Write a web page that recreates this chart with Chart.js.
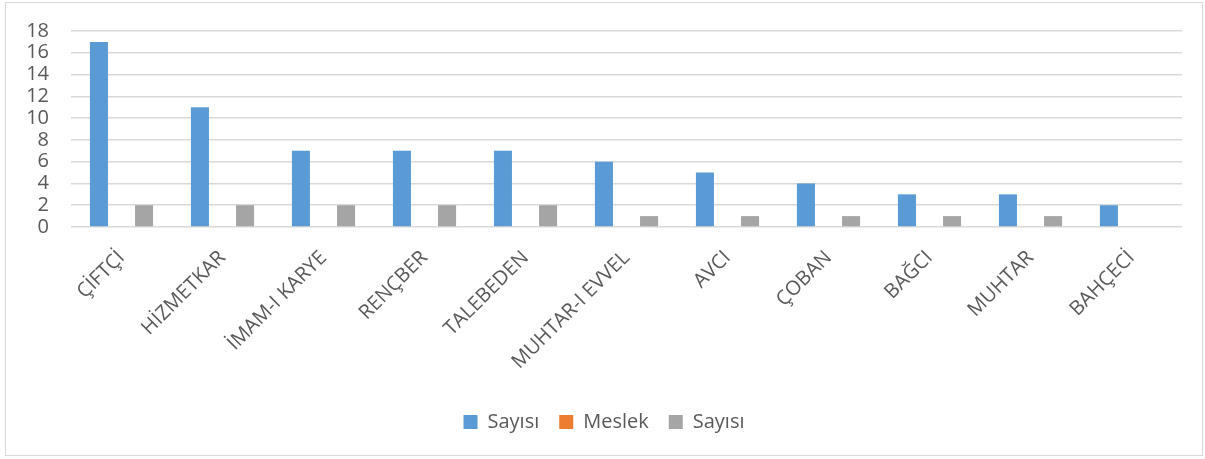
<!DOCTYPE html>
<html>
<head>
<meta charset="utf-8">
<script src="https://cdn.jsdelivr.net/npm/chart.js@4/dist/chart.umd.min.js"></script>
<style>
  html, body { margin: 0; padding: 0; background: #fff; }
  #box {
    position: absolute; left: 5px; top: 2px;
    width: 1196px; height: 452px;
    border: 1px solid #d9d9d9;
  }
</style>
</head>
<body>
<div id="box"><canvas id="myChart" width="1196" height="452"></canvas></div>
<script>
const labels = [
  "ÇİFTÇİ", "HİZMETKAR", "İMAM-I KARYE", "RENÇBER", "TALEBEDEN",
  "MUHTAR-I EVVEL", "AVCI", "ÇOBAN", "BAĞCI", "MUHTAR", "BAHÇECİ",
];
const sayisi1 = [17, 11, 7, 7, 7, 6, 5, 4, 3, 3, 2];
const meslek = [null, null, null, null, null, null, null, null, null, null, null];
const sayisi2 = [2, 2, 2, 2, 2, 1, 1, 1, 1, 1, null];
const yTicks = [0, 2, 4, 6, 8, 10, 12, 14, 16, 18];

const colors = {
  blue: "#5b9bd5",
  orange: "#ed7d31",
  gray: "#a5a5a5",
  text: "#595959",
  grid: "#d9d9d9",
};

const font = "'Open Sans', 'Liberation Sans', sans-serif";

const ctx = document.getElementById("myChart").getContext("2d");
const chart = new Chart(ctx, {
  type: "bar",
  data: {
    labels: labels,
    datasets: [
      { label: "Sayısı", data: sayisi1, backgroundColor: colors.blue },
      { label: "Meslek", data: meslek, backgroundColor: colors.orange },
      { label: "Sayısı", data: sayisi2, backgroundColor: colors.gray },
    ],
  },
  options: {
    responsive: false,
    animation: false,
    layout: { padding: { left: 20, right: 20, top: 28, bottom: 13 } },
    datasets: { bar: { categoryPercentage: 0.67, barPercentage: 0.8 } },
    plugins: {
      tooltip: { enabled: false },
      legend: {
        position: "bottom",
        labels: {
          color: colors.text,
          font: { family: font, size: 20 },
          boxWidth: 14,
          boxHeight: 14,
          padding: 20,
        },
      },
    },
    scales: {
      x: {
        grid: { display: false },
        border: { display: false },
        ticks: {
          color: colors.text,
          font: { family: font, size: 20 },
          minRotation: 45,
          maxRotation: 45,
          padding: 11,
          autoSkip: false,
        },
        afterFit: (axis) => { axis.height = 165; },
      },
      y: {
        min: 0,
        max: 18,
        afterBuildTicks: (axis) => { axis.ticks = yTicks.map((v) => ({ value: v })); },
        grid: { color: colors.grid, lineWidth: 1.5, drawTicks: false },
        border: { display: false },
        ticks: {
          color: colors.text,
          font: { family: font, size: 20 },
          padding: 22,
          autoSkip: false,
        },
        afterFit: (axis) => {
          axis.width = 45;
          // tick padding would otherwise push the plot top down
          axis.paddingTop = 12;
          axis.paddingBottom = 12;
        },
      },
    },
  },
});
</script>
</body>
</html>
